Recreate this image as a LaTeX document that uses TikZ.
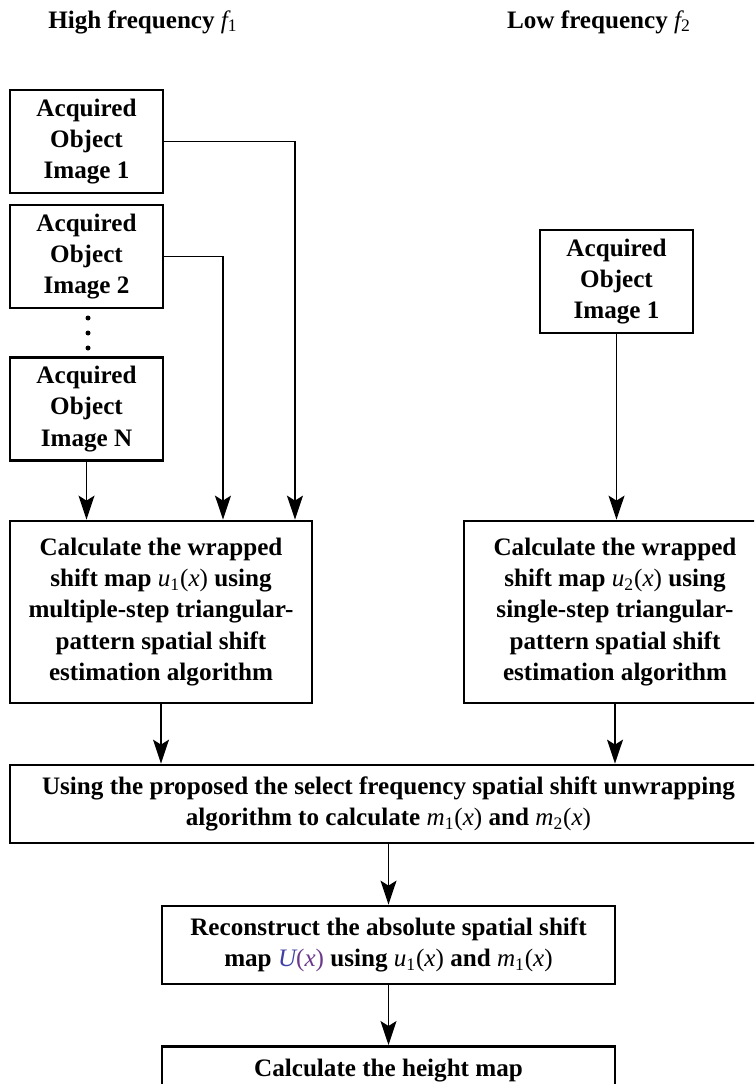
\documentclass[tikz,border=0pt]{standalone}
\usepackage{fontspec}
\setmainfont{Liberation Serif}
\usepackage{tikz}
\usetikzlibrary{arrows.meta, positioning}
\usepackage{xcolor}
\definecolor{ucol}{rgb}{0.25,0.25,0.65}
\definecolor{xcol}{rgb}{0.42,0.22,0.55}
\newcommand{\vr}[2]{{\normalfont\itshape #1}\textsubscript{\normalfont #2}}
\newcommand{\fx}[2]{\vr{#1}{#2}{\normalfont(\itshape x\/\normalfont)}}

\begin{document}
\begin{tikzpicture}[x=0.02cm, y=-0.02cm,
    >={Stealth[length=0.48cm, width=0.32cm, inset=0.1cm]},
    txt/.style={font=\fontsize{14.3}{17.8}\selectfont\bfseries, align=center},
    stepbox/.style={txt, draw, line width=1.6pt, inner sep=0pt},
    imgbox/.style={stepbox, minimum width=3.06cm, minimum height=2.06cm},
    calcbox/.style={stepbox, minimum width=6.04cm, minimum height=3.64cm},
    widebox/.style={stepbox, minimum width=9.06cm, minimum height=1.56cm},
    link/.style={->, line width=0.8pt}]
  \useasboundingbox (0,0) rectangle (754,1084);
  \clip (0,0) rectangle (754,1084);
  % titles
  \node[txt] (thigh) at (143,22) {High frequency \vr{f}{1}};
  \node[txt] (tlow) at (599,22) {Low frequency \vr{f}{2}};
  % acquired images, high frequency
  \node[imgbox] (img1) at (86.5,141.5) {Acquired\\Object\\Image 1};
  \node[imgbox] (img2) at (86.5,256.5) {Acquired\\Object\\Image 2};
  \node[imgbox] (imgn) at (86.5,409) {Acquired\\Object\\Image N};
  \foreach \y in {318,333,348}
    \fill (88,\y) circle (0.05cm);
  % acquired image, low frequency
  \node[imgbox] (imglow) at (616.5,281.5) {Acquired\\Object\\Image 1};
  % wrapped shift maps
  \node[calcbox] (calc1) at (161,612) {Calculate the wrapped\\shift map \fx{u}{1} using\\multiple-step triangular-\\pattern spatial shift\\estimation algorithm};
  \node[calcbox] (calc2) at (615,612) {Calculate the wrapped\\shift map \fx{u}{2} using\\single-step triangular-\\pattern spatial shift\\estimation algorithm};
  % unwrapping
  \node[stepbox, minimum width=15.14cm, minimum height=1.56cm] (unwrap) at (388.5,804)
    {Using the proposed the select frequency spatial shift unwrapping\\algorithm to calculate \fx{m}{1} and \fx{m}{2}};
  \node[widebox] (recon) at (388.5,945) {Reconstruct the absolute spatial shift\\map {\normalfont\color{ucol}\itshape U\color{xcol}\upshape(\itshape x\/\upshape)} using \fx{u}{1} and \fx{m}{1}};
  \node[stepbox, anchor=north, minimum width=9.06cm, text height=0.6cm, text depth=1.2cm] (height) at (388.5,1045) {Calculate the height map};
  % connectors
  \draw[link] (img1.east) -| ([xshift=2.68cm]calc1.north);
  \draw[link] (img2.east) -| ([xshift=1.24cm]calc1.north);
  \draw[link] (imgn.south) -- (imgn.south |- calc1.north);
  \draw[link] (imglow.south) -- (imglow.south |- calc2.north);
  \draw[link] (calc1.south) -- (calc1.south |- unwrap.north);
  \draw[link] (calc2.south) -- (calc2.south |- unwrap.north);
  \draw[link] (unwrap.south -| recon.north) -- (recon.north);
  \draw[link] (recon.south) -- (height.north);
\end{tikzpicture}
\end{document}
